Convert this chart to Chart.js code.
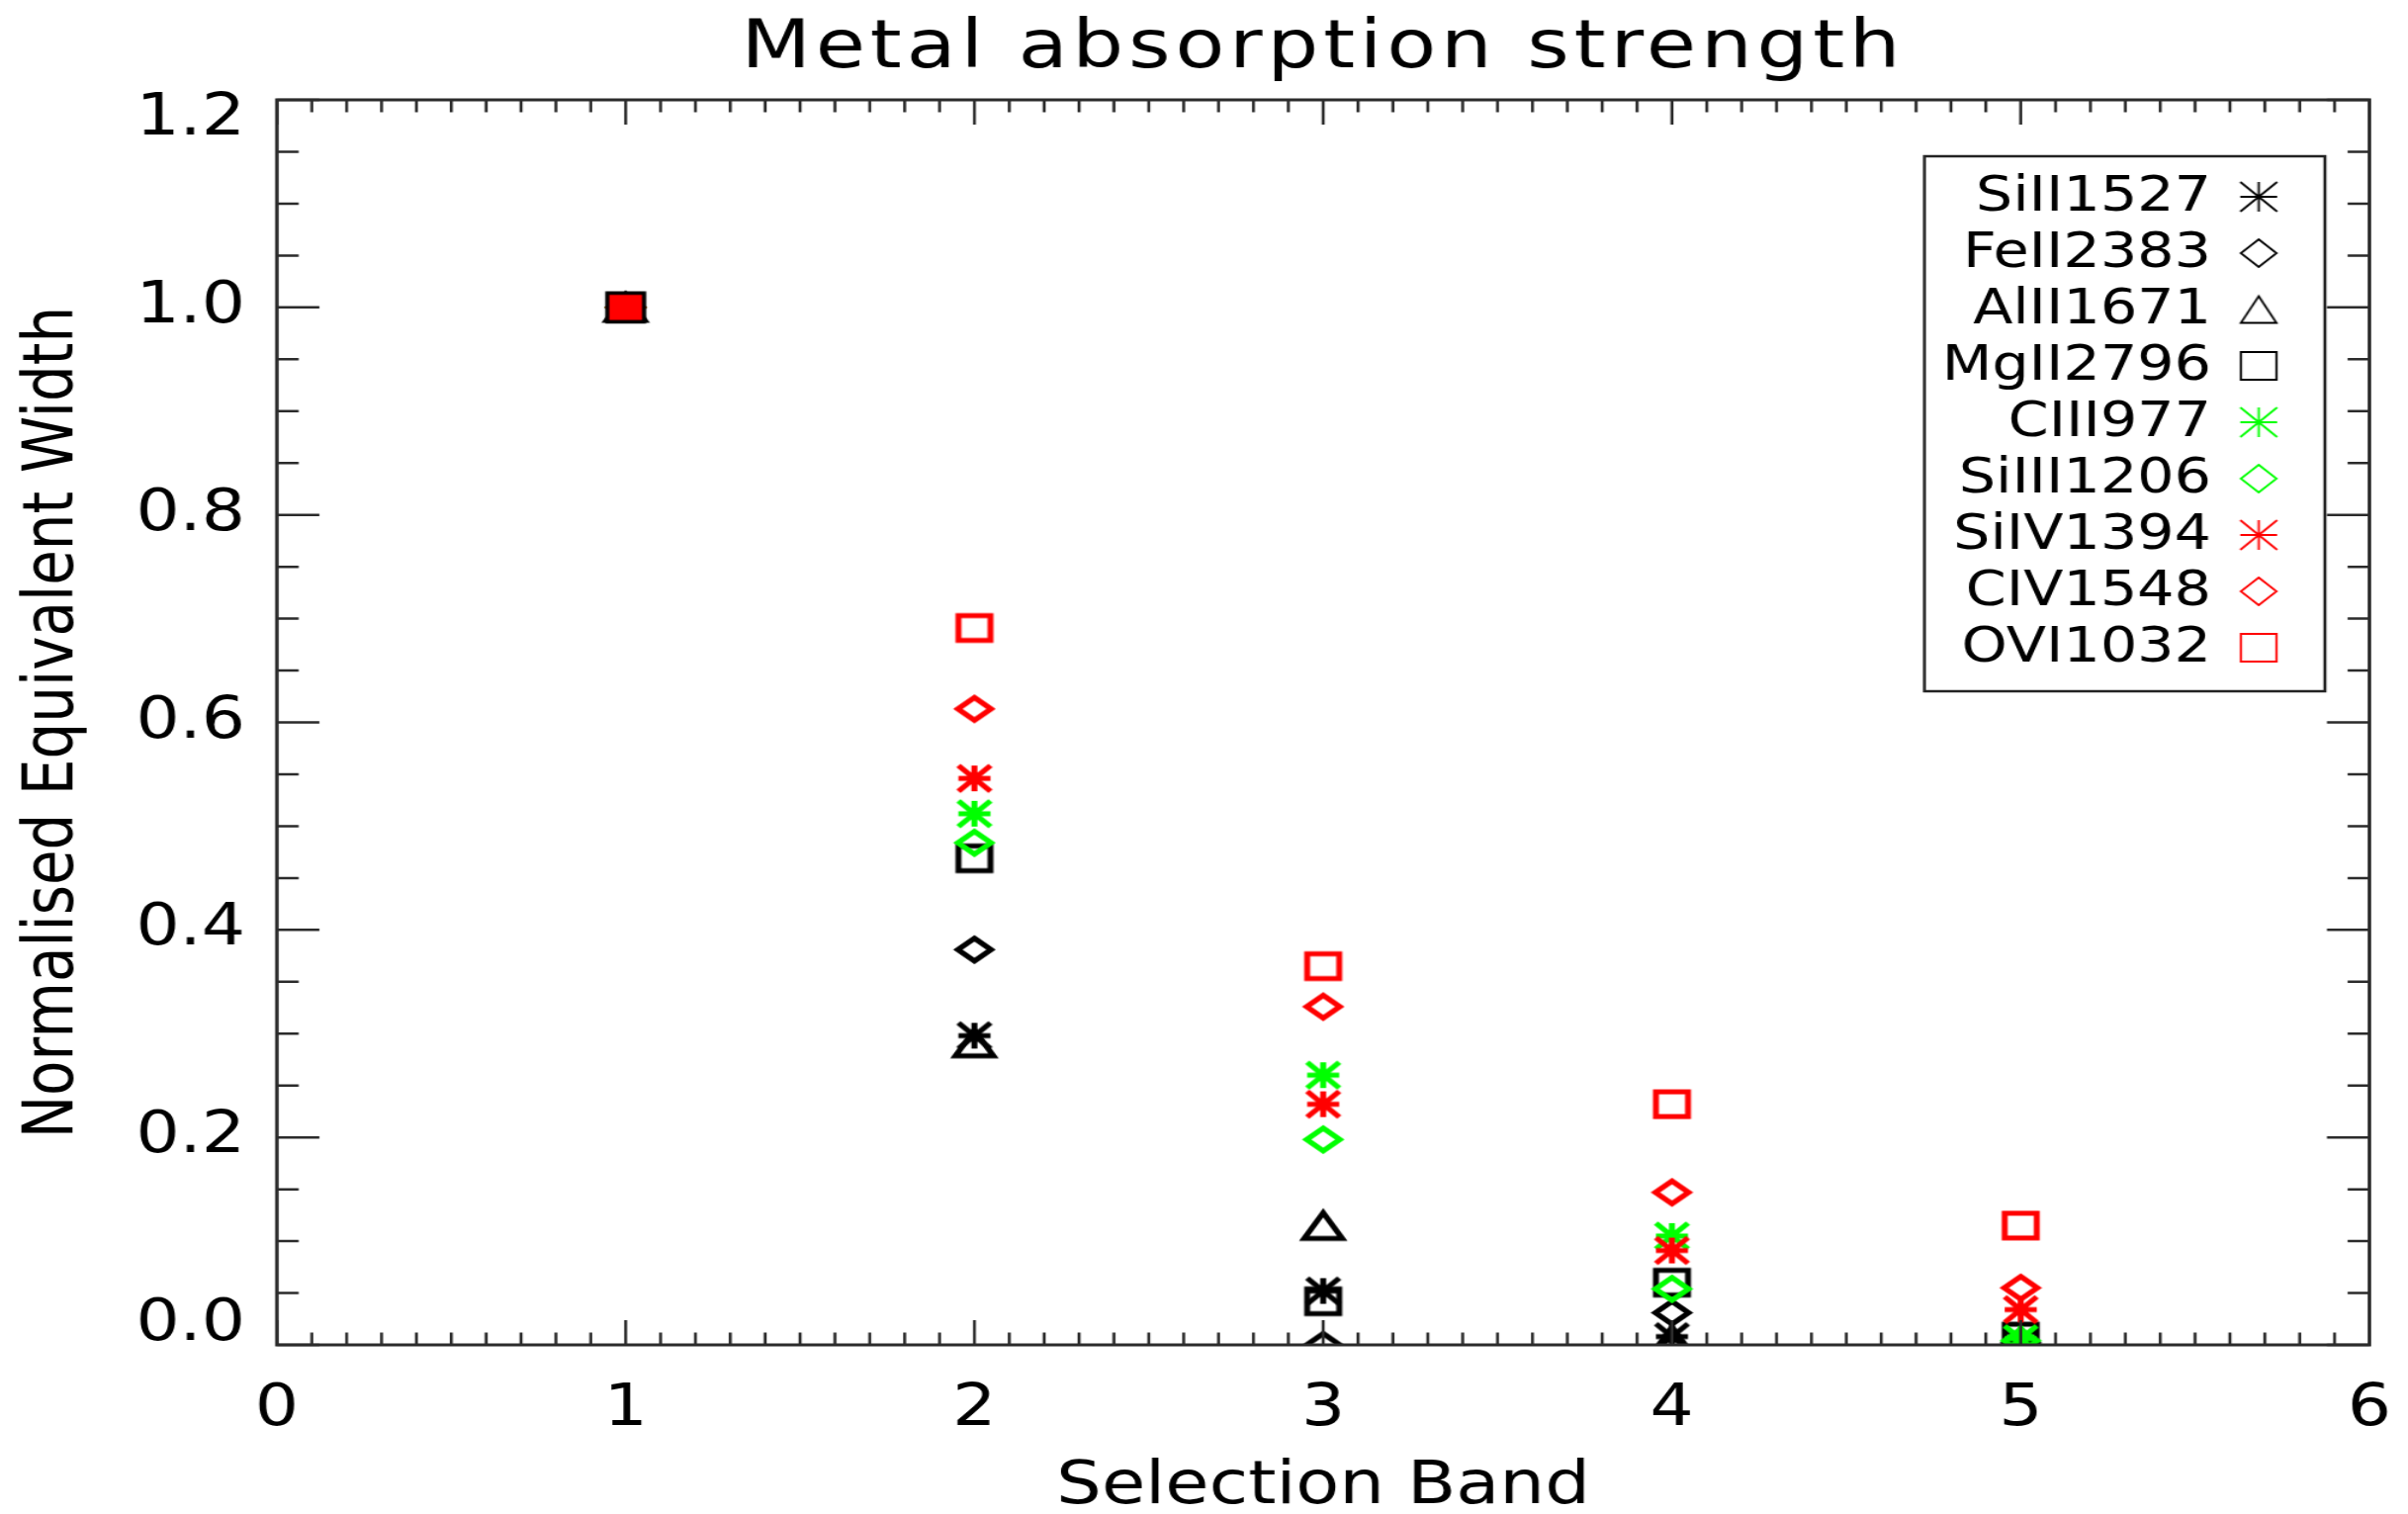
<!DOCTYPE html>
<html>
<head>
<meta charset="utf-8">
<script src="https://cdn.jsdelivr.net/npm/chart.js@4.4.1/dist/chart.umd.min.js"></script>
<style>
html, body { margin: 0; padding: 0; background: #fff; overflow: hidden; }
#wrap { position: absolute; left: 0; top: 0; width: 2029px; height: 1531px; transform-origin: 0 0; }
</style>
</head>
<body>
<div id="wrap"><canvas id="c"></canvas></div>
<script>
// ---------------- data ----------------
const bands = [1, 2, 3, 4, 5];
const seriesNames = ['SiII1527', 'FeII2383', 'AlII1671', 'MgII2796', 'CIII977', 'SiIII1206', 'SiIV1394', 'CIV1548', 'OVI1032'];
const siII1527  = [1.0, 0.298, 0.052, 0.008, 0.003];
const feII2383  = [1.0, 0.381, 0.000, 0.031, 0.002];
const alII1671  = [1.0, 0.291, 0.115, 0.005, 0.003];
const mgII2796  = [1.0, 0.469, 0.042, 0.060, 0.008];
const cIII977   = [1.0, 0.512, 0.260, 0.105, 0.006];
const siIII1206 = [1.0, 0.484, 0.198, 0.054, 0.004];
const siIV1394  = [1.0, 0.546, 0.232, 0.091, 0.034];
const cIV1548   = [1.0, 0.613, 0.326, 0.147, 0.055];
const oVI1032   = [1.0, 0.691, 0.365, 0.232, 0.115];
const seriesValues = [siII1527, feII2383, alII1671, mgII2796, cIII977, siIII1206, siIV1394, cIV1548, oVI1032];
const xTickLabels = ['0', '1', '2', '3', '4', '5', '6'];
const yTickLabels = ['0.0', '0.2', '0.4', '0.6', '0.8', '1.0', '1.2'];

// ---------------- styles ----------------
const W = 2029, H = 1531;
const K = 2435 / W;               // horizontal stretch of the picture
document.getElementById('wrap').style.transform = 'scaleX(' + K + ')';
const FONT = 'DejaVu Sans';
const RED = '#ff0000', GREEN = '#00ff00', BLACK = '#000000';
const seriesColors = [BLACK, BLACK, BLACK, BLACK, GREEN, GREEN, RED, RED, RED];
const seriesShapes = ['asterisk', 'diamond', 'triangle', 'square', 'asterisk', 'diamond', 'asterisk', 'diamond', 'square'];

function makeMarker(shape, color, w, h, lw, fill, strokeColor) {
  const pad = Math.ceil(lw * 2) + 2;
  const c = document.createElement('canvas');
  c.width = Math.round(w + 2 * pad);
  c.height = Math.round(h + 2 * pad);
  const g = c.getContext('2d');
  const cx = c.width / 2, cy = c.height / 2, hw = w / 2, hh = h / 2;
  g.strokeStyle = strokeColor || color;
  g.lineWidth = lw;
  g.lineJoin = 'miter';
  g.lineCap = 'butt';
  g.beginPath();
  if (shape === 'square') {
    g.rect(cx - hw, cy - hh, w, h);
  } else if (shape === 'diamond') {
    g.moveTo(cx, cy - hh); g.lineTo(cx + hw, cy); g.lineTo(cx, cy + hh); g.lineTo(cx - hw, cy); g.closePath();
  } else if (shape === 'triangle') {
    g.moveTo(cx, cy - hh); g.lineTo(cx + hw, cy + hh); g.lineTo(cx - hw, cy + hh); g.closePath();
  } else if (shape === 'asterisk') {
    g.moveTo(cx - hw, cy); g.lineTo(cx + hw, cy);
    g.moveTo(cx, cy - hh); g.lineTo(cx, cy + hh);
    g.moveTo(cx - hw, cy - hh); g.lineTo(cx + hw, cy + hh);
    g.moveTo(cx - hw, cy + hh); g.lineTo(cx + hw, cy - hh);
  }
  if (fill) { g.fillStyle = fill; g.fill(); }
  g.stroke();
  return c;
}
const dataSize = { asterisk: [27, 26], diamond: [28, 23], triangle: [32, 26], square: [27, 25] };
const legSize  = { asterisk: [31, 30], diamond: [30, 28], triangle: [30, 27], square: [30, 28] };
const dataMarkers = seriesShapes.map((s, i) => makeMarker(s, seriesColors[i], dataSize[s][0], dataSize[s][1], 5));
const legendMarkers = seriesShapes.map((s, i) => makeMarker(s, seriesColors[i], legSize[s][0], legSize[s][1], 1.8));
const normMarker = makeMarker('square', RED, 31, 29, 3.5, RED, BLACK);

// ---------------- plugins ----------------
const framePlugin = {
  id: 'frame',
  beforeDraw(chart) { chart.ctx.letterSpacing = '4px'; },
  beforeDatasetsDraw(chart) { chart.ctx.letterSpacing = '0px'; },
  afterDatasetsDraw(chart) { chart.ctx.letterSpacing = '0px'; },
  afterDraw(chart) {
    const { ctx, chartArea: a, scales: { x, y } } = chart;
    ctx.save();
    ctx.strokeStyle = '#2b2b2b';
    ctx.lineWidth = 2.5;
    ctx.beginPath();
    for (let i = 0; i <= 60; i++) {
      const px = x.getPixelForValue(i / 10);
      const len = (i % 10 === 0) ? 25 : 12.5;
      ctx.moveTo(px, a.bottom); ctx.lineTo(px, a.bottom - len);
      ctx.moveTo(px, a.top); ctx.lineTo(px, a.top + len);
    }
    for (let i = 0; i <= 24; i++) {
      const py = y.getPixelForValue(i * 0.05);
      const len = ((i % 4 === 0) ? 43 : 22) / K;
      ctx.moveTo(a.left, py); ctx.lineTo(a.left + len, py);
      ctx.moveTo(a.right, py); ctx.lineTo(a.right - len, py);
    }
    ctx.stroke();
    ctx.lineWidth = 3;
    ctx.strokeRect(a.left, a.top, a.right - a.left, a.bottom - a.top);

    // legend
    const bx0 = 1946 / K, bx1 = 2351 / K, by0 = 158, by1 = 699;
    ctx.fillStyle = '#ffffff';
    ctx.fillRect(bx0, by0, bx1 - bx0, by1 - by0);
    ctx.lineWidth = 2.5;
    ctx.strokeStyle = '#222222';
    ctx.strokeRect(bx0, by0, bx1 - bx0, by1 - by0);
    ctx.font = '49px "' + FONT + '"';
    ctx.fillStyle = '#000000';
    ctx.textAlign = 'right';
    ctx.textBaseline = 'middle';
    ctx.letterSpacing = '0px';
    const textRight = 2236 / K, markX = 2284 / K;
    seriesNames.forEach((name, i) => {
      const ry = 199 + 57 * i;
      ctx.fillText(name, textRight, ry + 1);
      const m = legendMarkers[i];
      ctx.drawImage(m, markX - m.width / 2, ry - m.height / 2);
    });
    ctx.restore();
  }
};

// ---------------- chart ----------------
const datasets = seriesNames.map((name, i) => ({
  label: name,
  data: bands.map((b, j) => ({ x: b, y: seriesValues[i][j] })),
  pointStyle: i === 8 ? (c) => (c.dataIndex === 0 ? normMarker : dataMarkers[i]) : dataMarkers[i],
  pointRadius: 10,
  pointHoverRadius: 10,
  showLine: false,
  clip: 0,
  order: -i
}));

Chart.defaults.font.family = FONT;
Chart.defaults.color = '#000';

new Chart(document.getElementById('c'), {
  type: 'scatter',
  data: { datasets },
  plugins: [framePlugin],
  options: {
    responsive: true,
    maintainAspectRatio: false,
    animation: false,
    events: [],
    layout: { padding: { left: 0, right: W - 2396 / K, top: 0, bottom: 0 } },
    plugins: {
      legend: { display: false },
      tooltip: { enabled: false },
      title: {
        display: true,
        text: 'Metal absorption strength',
        fullSize: false,
        color: '#000',
        font: { family: FONT, size: 68, weight: 'normal', lineHeight: 1.2 },
        padding: { top: 10, bottom: 9.4 }
      }
    },
    scales: {
      x: {
        type: 'linear',
        position: 'bottom',
        min: 0, max: 6,
        afterFit(s) { s.height = 171; },
        grid: { display: false, drawTicks: false, tickLength: 0, z: 1 },
        border: { display: false, z: 1 },
        ticks: {
          stepSize: 1, autoSkip: false, maxRotation: 0, minRotation: 0,
          padding: 0, color: '#000', z: 1,
          font: { family: FONT, size: 58, lineHeight: 132 / 58 },
          callback: (v) => xTickLabels[Math.round(v)]
        },
        title: {
          display: true, text: 'Selection Band', color: '#000', padding: 0,
          font: { family: FONT, size: 60, lineHeight: 0.9 }
        }
      },
      y: {
        type: 'linear',
        position: 'left',
        min: 0, max: 1.2,
        afterFit(s) { s.width = 280 / K; },
        grid: { display: false, drawTicks: false, tickLength: 0, z: 1 },
        border: { display: false, z: 1 },
        ticks: {
          stepSize: 0.2, autoSkip: false,
          padding: 280 / K - 248 / K, color: '#000', z: 1,
          font: { family: FONT, size: 58, lineHeight: 40 / 58 },
          callback: (v, i, ticks) => {
            const lab = yTickLabels[Math.round(v * 5)];
            if (i === ticks.length - 1) return ['', lab];
            if (i === 0) return [lab, ''];
            return lab;
          }
        },
        title: {
          display: true, text: 'Normalised Equivalent Width', color: '#000',
          padding: { top: 55 / K - 34.8, bottom: 0 },
          font: { family: FONT, size: 58, lineHeight: 1.2 }
        }
      }
    }
  }
});
</script>
</body>
</html>
